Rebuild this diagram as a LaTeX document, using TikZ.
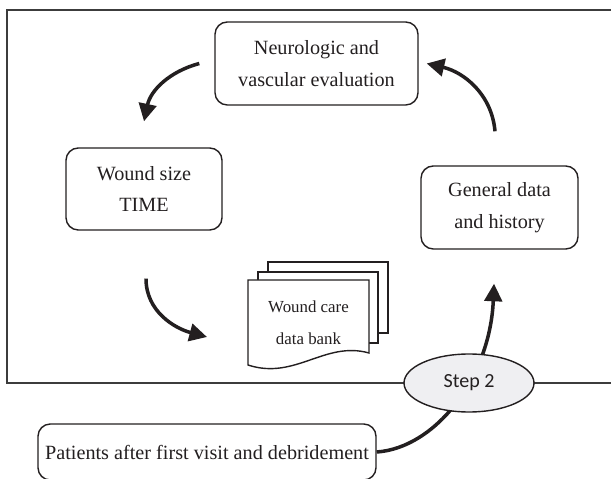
\documentclass[tikz,border=0pt]{standalone}
\usepackage{fontspec}
\setmainfont{Liberation Serif}
\newfontfamily\stepfont{Carlito}
\definecolor{wdink}{RGB}{35,31,32}
\definecolor{wdframe}{RGB}{60,60,60}
\definecolor{wdstep}{RGB}{239,239,242}
\usetikzlibrary{arrows.meta,positioning,shapes.geometric,calc}

\begin{document}
\begin{tikzpicture}[
  carebox/.style={
    rectangle, rounded corners=7pt,
    draw=wdink, line width=0.8pt,
    fill=white, inner sep=0pt,
    font=\fontsize{11.5}{18}\selectfont,
    align=center,
    text=wdink
  },
  cycle arrow/.style={-{Triangle[length=10pt,width=10pt]}, line width=2pt, draw=wdink},
  sheet/.style={draw=wdink, line width=0.8pt, fill=white}
]
\useasboundingbox (0,0) rectangle (12.22,9.56);
\draw[wdframe, line width=0.9pt] (12.22,9.36) -| (0.14,1.9) -- (12.22,1.9);

\node[carebox, minimum width=4.06cm, minimum height=1.66cm] (neuro) at (6.33,8.29)
  {Neurologic and\\vascular evaluation};
\node[carebox, minimum width=3.12cm, minimum height=1.64cm] (wound) at (2.88,5.78)
  {Wound size\\TIME};
\node[carebox, minimum width=3.14cm, minimum height=1.66cm] (general) at (9.99,5.41)
  {General data\\and history};
\node[carebox, minimum width=6.76cm, minimum height=1.12cm] (patients) at (4.14,0.52)
  {Patients after first visit and debridement};

% data bank, three sheets
\draw[sheet] (5.36,2.9) rectangle (7.76,4.32);
\draw[sheet] (5.16,2.7) rectangle (7.56,4.12);
\draw[sheet] (4.96,2.26) -- (4.96,3.96) -- (7.38,3.96) -- (7.38,2.5)
  .. controls (6.5,2.75) and (5.9,1.95) .. (4.96,2.26) -- cycle;
\node[font=\fontsize{9.6}{18}\selectfont, text=wdink, align=center] (bank) at (6.17,3.1)
  {Wound care\\data bank};
\coordinate (bankin) at (4.14,2.82);

\draw[cycle arrow] ([xshift=-3mm]neuro.west) to[out=195,in=78] ([yshift=5.2mm]wound.north);
\draw[cycle arrow] ([xshift=0.4mm,yshift=-9.6mm]wound.south) to[out=270,in=165] (bankin);
\draw[cycle arrow] ([xshift=-0.9mm,yshift=6.8mm]general.north) to[out=95,in=-13] ([xshift=1.6mm]neuro.east);
\draw[cycle arrow] (patients.east) .. controls (8.7,0.6) and (9.8,2.0) .. ([xshift=-1.1mm,yshift=-6.8mm]general.south);

\node[ellipse, draw=wdink, line width=0.8pt, fill=wdstep, minimum width=2.6cm, minimum height=1.16cm,
  inner sep=0pt, font=\stepfont\fontsize{11.4}{13}\selectfont, text=wdink] (step) at (9.38,1.9) {Step 2};
\end{tikzpicture}
\end{document}
